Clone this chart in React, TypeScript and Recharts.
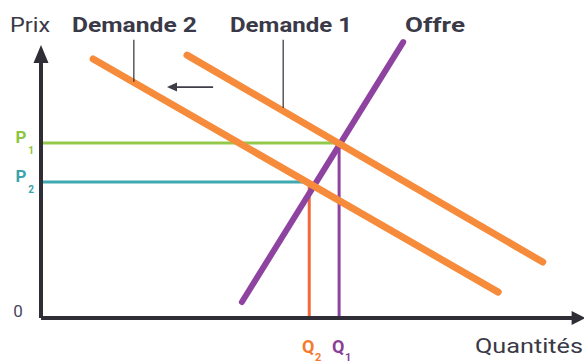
import React from "react";
import { ComposedChart, Line, XAxis, YAxis, ReferenceLine } from "recharts";

if (typeof document !== "undefined") {
  document.body.style.margin = "0";
}

// Equilibrium values (arbitrary units: quantity 0-100, price 0-110)
const P1 = 62.9;
const P2 = 48.9;
const Q1 = 54.9;
const Q2 = 49.4;

// Curves
const offre = [
  { q: 37.0, p: 5.75 },
  { q: 66.7, p: 99.2 },
];
const demande1 = [
  { q: 26.9, p: 94.5 },
  { q: 92.4, p: 20.1 },
];
const demande2 = [
  { q: 9.6, p: 93.1 },
  { q: 84.2, p: 9.3 },
];

// Guide lines
const p1Line = [
  { q: 0, p: P1 },
  { q: Q1, p: P1 },
];
const p2Line = [
  { q: 0, p: P2 },
  { q: Q2, p: P2 },
];
const q1Line = [
  { q: Q1, p: 0 },
  { q: Q1, p: P1 },
];
const q2Line = [
  { q: Q2, p: 0 },
  { q: Q2, p: P2 },
];

// Annotation segments
const leaderD2 = [
  { q: 17.1, p: 100 },
  { q: 17.1, p: 84.9 },
];
const leaderD1 = [
  { q: 44.6, p: 100 },
  { q: 44.6, p: 75.5 },
];
const shiftArrow = [
  { q: 31.7, p: 83.0 },
  { q: 23.2, p: 83.0 },
];
const yAxisArrow = [
  { q: 0, p: 0 },
  { q: 0, p: 98.1 },
];
const xAxisArrow = [
  { q: 0, p: 0 },
  { q: 100.3, p: 0 },
];

// Tick labels
const yTicks = [0, P2, P1];
const yTickMain = ["0", "P", "P"];
const yTickSub = ["", "2", "1"];
const yTickColors = ["#4a4660", "#3aa3ab", "#8cc540"];

const xTicks = [Q2, Q1];
const xTickMain = ["Q", "Q"];
const xTickSub = ["2", "1"];
const xTickColors = ["#f47a30", "#8b3f98"];

const titleLabels = ["Prix", "Demande 2", "Demande 1", "Offre", "Quantités"];

const ORANGE = "#f68b3c";
const PURPLE = "#8e43a0";
const AXIS = "#2f2e36";
const TEXT = "#3a3947";
const FONT = "Roboto, 'Open Sans', sans-serif";

function Arrow(props: any) {
  const { x1, y1, x2, y2, color, width, headLen, headHalf } = props;
  if (x1 == null) return null;
  const dx = x2 - x1;
  const dy = y2 - y1;
  const len = Math.sqrt(dx * dx + dy * dy) || 1;
  const ux = dx / len;
  const uy = dy / len;
  const bx = x2 - ux * headLen;
  const by = y2 - uy * headLen;
  const px = -uy * headHalf;
  const py = ux * headHalf;
  return (
    <g>
      <line x1={x1} y1={y1} x2={bx + ux} y2={by + uy} stroke={color} strokeWidth={width} />
      <polygon
        points={`${x2},${y2} ${bx + px},${by + py} ${bx - px},${by - py}`}
        fill={color}
      />
    </g>
  );
}

function YTick(props: any) {
  const { x, y, index } = props;
  const main = yTickMain[index];
  const sub = yTickSub[index];
  const color = yTickColors[index];
  if (index === 0) {
    return (
      <text x={x - 15} y={y - 1} textAnchor="middle" fill={color} fontFamily={FONT} fontSize={17}>
        {main}
      </text>
    );
  }
  return (
    <g>
      <text x={x - 12} y={y} textAnchor="middle" fill={color} fontFamily={FONT} fontSize={17} fontWeight={700}>
        {main}
      </text>
      <text x={x - 2} y={y + 11} textAnchor="middle" fill={color} fontFamily={FONT} fontSize={10} fontWeight={700}>
        {sub}
      </text>
    </g>
  );
}

function XTick(props: any) {
  const { x, index } = props;
  const color = xTickColors[index];
  return (
    <g>
      <text x={x - 1} y={353} textAnchor="middle" fill={color} fontFamily={FONT} fontSize={18} fontWeight={700}>
        {xTickMain[index]}
      </text>
      <text x={x + 9} y={361} textAnchor="middle" fill={color} fontFamily={FONT} fontSize={11} fontWeight={700}>
        {xTickSub[index]}
      </text>
    </g>
  );
}

export default function App() {
  return (
    <div style={{ width: 584, height: 363, background: "#ffffff", overflow: "hidden" }}>
      <ComposedChart
        width={584}
        height={363}
        margin={{ top: 12, right: 0, bottom: 0, left: 0 }}
      >
        <XAxis
          type="number"
          dataKey="q"
          domain={[0, 100]}
          ticks={xTicks}
          tick={<XTick />}
          axisLine={false}
          tickLine={false}
          height={45}
          allowDataOverflow
          interval={0}
        />
        <YAxis
          type="number"
          dataKey="p"
          domain={[0, 110]}
          ticks={yTicks}
          tick={<YTick />}
          axisLine={false}
          tickLine={false}
          width={41}
          allowDataOverflow
          interval={0}
        />

        <Line data={p1Line} dataKey="p" type="linear" stroke="#93c84a" strokeWidth={3} dot={false} activeDot={false} isAnimationActive={false} />
        <Line data={p2Line} dataKey="p" type="linear" stroke="#3fa8b0" strokeWidth={3} dot={false} activeDot={false} isAnimationActive={false} />
        <Line data={q2Line} dataKey="p" type="linear" stroke="#f2693a" strokeWidth={3} dot={false} activeDot={false} isAnimationActive={false} />
        <Line data={q1Line} dataKey="p" type="linear" stroke={PURPLE} strokeWidth={3} dot={false} activeDot={false} isAnimationActive={false} />

        <Line data={offre} dataKey="p" type="linear" stroke={PURPLE} strokeWidth={6} strokeLinecap="round" dot={false} activeDot={false} isAnimationActive={false} />
        <Line data={demande2} dataKey="p" type="linear" stroke={ORANGE} strokeWidth={7} strokeLinecap="round" dot={false} activeDot={false} isAnimationActive={false} />
        <Line data={demande1} dataKey="p" type="linear" stroke={ORANGE} strokeWidth={7} strokeLinecap="round" dot={false} activeDot={false} isAnimationActive={false} />

        <Line data={leaderD2} dataKey="p" type="linear" stroke={AXIS} strokeWidth={1.2} dot={false} activeDot={false} isAnimationActive={false} />
        <Line data={leaderD1} dataKey="p" type="linear" stroke={AXIS} strokeWidth={1.2} dot={false} activeDot={false} isAnimationActive={false} />

        <ReferenceLine
          segment={[shiftArrow[0], shiftArrow[1]].map((d) => ({ x: d.q, y: d.p }))}
          ifOverflow="visible"
          shape={(p: any) => <Arrow {...p} color="#3e3d48" width={1.8} headLen={10} headHalf={4.5} />}
        />
        <ReferenceLine
          segment={[yAxisArrow[0], yAxisArrow[1]].map((d) => ({ x: d.q, y: d.p }))}
          ifOverflow="visible"
          shape={(p: any) => <Arrow {...p} color={AXIS} width={4} headLen={18} headHalf={7.5} />}
        />
        <ReferenceLine
          segment={[xAxisArrow[0], xAxisArrow[1]].map((d) => ({ x: d.q, y: d.p }))}
          ifOverflow="visible"
          shape={(p: any) => <Arrow {...p} color={AXIS} width={4} headLen={14} headHalf={7} />}
        />

        <text x={10} y={32} fill={TEXT} fontFamily={FONT} fontSize={21} textLength={40} lengthAdjust="spacingAndGlyphs">
          {titleLabels[0]}
        </text>
        <text x={72} y={32} fill={TEXT} fontFamily={FONT} fontSize={21} fontWeight={700} textLength={125} lengthAdjust="spacingAndGlyphs">
          {titleLabels[1]}
        </text>
        <text x={230} y={32} fill={TEXT} fontFamily={FONT} fontSize={21} fontWeight={700} textLength={122} lengthAdjust="spacingAndGlyphs">
          {titleLabels[2]}
        </text>
        <text x={405} y={32} fill={TEXT} fontFamily={FONT} fontSize={21} fontWeight={700} textLength={60} lengthAdjust="spacingAndGlyphs">
          {titleLabels[3]}
        </text>
        <text x={475} y={353} fill={TEXT} fontFamily={FONT} fontSize={21} textLength={108} lengthAdjust="spacingAndGlyphs">
          {titleLabels[4]}
        </text>
      </ComposedChart>
    </div>
  );
}
